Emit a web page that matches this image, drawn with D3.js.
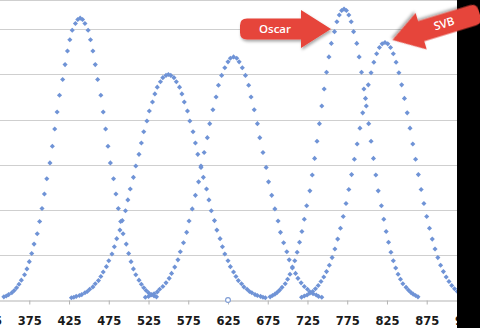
<!DOCTYPE html>
<html>
<head>
<meta charset="utf-8">
<script src="https://cdn.jsdelivr.net/npm/d3@7"></script>
<style>
  html, body { margin: 0; padding: 0; background: #fff; }
  svg { display: block; }
  .tick text { font-family: "DejaVu Sans", sans-serif; font-weight: bold; font-size: 11.5px; fill: #1a1a1a; }
</style>
</head>
<body>
<svg width="480" height="328"></svg>
<script>
// x tick labels and grid levels
var xTicks = [325, 375, 425, 475, 525, 575, 625, 675, 725, 775, 825, 875, 925];
var yGrid = [10, 20, 30, 40, 50, 60];

// curve 1
var aX = [343,346,349,353,356,359,362,365,369,372,375,378,381,385,388,391,394,397,401,404,407,410,413,417,420,423,426,429,433,436,
  439,442,445,449,452,455,458,461,465,468,471,474,477,481,484,487,490,493,497,500,503,506,509,513,516,519,522,525,529,532,535];
var aY = [0.7,0.9,1.2,1.6,2.1,2.7,3.5,4.4,5.6,6.9,8.5,10.3,12.4,14.7,17.4,20.3,23.5,26.9,30.4,34.1,37.9,41.7,45.4,48.9,52.2,55.2,57.7,59.8,61.3,62.2,
  62.5,62.2,61.3,59.8,57.7,55.2,52.2,48.9,45.4,41.7,37.9,34.1,30.4,26.9,23.5,20.3,17.4,14.7,12.4,10.3,8.5,6.9,5.6,4.4,3.5,2.7,2.1,1.6,1.2,0.9,0.7];

// curve 2
var bX = [428,431,434,438,441,445,448,451,455,458,462,465,468,472,475,479,482,485,489,492,496,499,502,506,509,513,516,519,523,526,530,533,536,540,543,547,
  550,553,557,560,564,567,570,574,577,581,584,587,591,594,598,601,604,608,611,615,618,621,625,628,632,635,638,642,645,649,652,655,659,662,666,669,672];
var bY = [0.5,0.6,0.8,1.0,1.2,1.6,1.9,2.4,2.9,3.6,4.3,5.2,6.2,7.4,8.7,10.2,11.8,13.6,15.5,17.6,19.8,22.2,24.6,27.2,29.7,32.3,34.8,37.3,39.7,41.9,43.9,45.7,47.2,48.4,49.3,49.8,
  50.0,49.8,49.3,48.4,47.2,45.7,43.9,41.9,39.7,37.3,34.8,32.3,29.7,27.2,24.6,22.2,19.8,17.6,15.5,13.6,11.8,10.2,8.7,7.4,6.2,5.2,4.3,3.6,2.9,2.4,1.9,1.6,1.2,1.0,0.8,0.6,0.5];

// curve 3
var cX = [521,525,528,532,536,539,543,547,551,554,558,562,565,569,573,576,580,584,588,591,595,599,602,606,610,613,617,621,625,628,
  632,636,639,643,647,651,654,658,662,665,669,673,676,680,684,688,691,695,699,702,706,710,713,717,721,725,728,732,736,739,743];
var cY = [0.6,0.8,1.1,1.4,1.8,2.4,3.0,3.8,4.8,5.9,7.3,8.9,10.7,12.7,15.0,17.5,20.2,23.2,26.2,29.4,32.7,36.0,39.1,42.2,45.0,47.6,49.8,51.5,52.8,53.6,
  53.9,53.6,52.8,51.5,49.8,47.6,45.0,42.2,39.1,36.0,32.7,29.4,26.2,23.2,20.2,17.5,15.0,12.7,10.7,8.9,7.3,5.9,4.8,3.8,3.0,2.4,1.8,1.4,1.1,0.8,0.6];

// Oscar
var oscarX = [678,681,684,687,690,693,697,700,703,706,709,712,715,718,721,724,728,731,734,737,740,743,746,749,752,755,759,762,765,768,
  771,774,777,780,783,787,790,793,796,799,802,805,808,811,814,818,821,824,827,830,833,836,839,842,845,849,852,855,858,861,864];
var oscarY = [0.7,1.0,1.3,1.7,2.2,2.8,3.6,4.6,5.7,7.1,8.7,10.6,12.8,15.2,17.9,20.9,24.2,27.7,31.4,35.2,39.1,43.0,46.8,50.5,53.9,56.9,59.5,61.7,63.2,64.2,
  64.5,64.2,63.2,61.7,59.5,56.9,53.9,50.5,46.8,43.0,39.1,35.2,31.4,27.7,24.2,20.9,17.9,15.2,12.8,10.6,8.7,7.1,5.7,4.6,3.6,2.8,2.2,1.7,1.3,1.0,0.7];

// SVB
var svbX = [717.5,721,724.5,728,731.5,735,738.5,742,745.5,749,752.5,756,759.5,763,766.5,770,773.5,777,780.5,784,787.5,791,794.5,798,801.5,805,808.5,812,815.5,819,
  822.5,826,829.5,833,836.5,840,843.5,847,850.5,854,857.5,861,864.5,868,871.5,875,878.5,882,885.5,889,892.5,896,899.5,903,906.5,910,913.5,917,920.5,924,927.5];
var svbY = [0.6,0.9,1.1,1.5,1.9,2.5,3.2,4.1,5.1,6.3,7.7,9.4,11.3,13.5,15.9,18.5,21.4,24.5,27.8,31.2,34.6,38.1,41.5,44.7,47.7,50.4,52.7,54.6,56.0,56.8,
  57.1,56.8,56.0,54.6,52.7,50.4,47.7,44.7,41.5,38.1,34.6,31.2,27.8,24.5,21.4,18.5,15.9,13.5,11.3,9.4,7.7,6.3,5.1,4.1,3.2,2.5,1.9,1.5,1.1,0.9,0.6];

// lone hollow point on the axis
var hollowX = [625];
var hollowY = [0];

// callouts
var callouts = ["Oscar", "SVB"];
/////////////////////////////////////

var svg = d3.select("svg");
var W = 480, H = 328;

var x = d3.scaleLinear().domain([325, 925]).range([-10.44, 466.44]);
var y = d3.scaleLinear().domain([0, 60]).range([300, 29.4]);

var defs = svg.append("defs");
var f = defs.append("filter").attr("id", "shadow")
  .attr("x", "-20%").attr("y", "-30%").attr("width", "150%").attr("height", "170%");
f.append("feDropShadow").attr("dx", 1).attr("dy", 2).attr("stdDeviation", 1.6)
  .attr("flood-color", "#000").attr("flood-opacity", 0.35);

svg.append("rect").attr("width", W).attr("height", H).attr("fill", "#fff");

// plot top border + gridlines
svg.append("line").attr("x1", 0).attr("x2", W).attr("y1", 0.5).attr("y2", 0.5)
  .attr("stroke", "#cfcfcf").attr("stroke-width", 1.2);
svg.append("g").selectAll("line").data(yGrid).enter().append("line")
  .attr("x1", 0).attr("x2", W)
  .attr("y1", function (d) { return Math.round(y(d)) + 0.5; })
  .attr("y2", function (d) { return Math.round(y(d)) + 0.5; })
  .attr("stroke", "#cfcfcf").attr("stroke-width", 1.2);

// x axis
var ax = svg.append("g").attr("transform", "translate(0," + 300.5 + ")")
  .call(d3.axisBottom(x).tickValues(xTicks).tickSize(4).tickSizeOuter(0).tickPadding(12.5)
    .tickFormat(d3.format("d")));
ax.select(".domain").attr("stroke", "#b3b3b3");
ax.selectAll(".tick line").attr("stroke", "#b3b3b3");

// dots
var series = [d3.zip(aX, aY), d3.zip(bX, bY), d3.zip(cX, cY), d3.zip(oscarX, oscarY), d3.zip(svbX, svbY)];
var sym = d3.symbol().type(d3.symbolSquare).size(13);
var dots = svg.append("g");
series.forEach(function (pts) {
  dots.selectAll(null).data(pts).enter().append("path")
    .attr("d", sym)
    .attr("transform", function (d) { return "translate(" + x(d[0]) + "," + y(d[1]) + ") rotate(45)"; })
    .attr("fill", "#6f93d6");
});

svg.append("g").selectAll("circle").data(d3.zip(hollowX, hollowY)).enter().append("circle")
  .attr("cx", function (d) { return x(d[0]); })
  .attr("cy", function (d) { return y(d[1]); })
  .attr("r", 2.4)
  .attr("fill", "#fff").attr("stroke", "#7d9bd4").attr("stroke-width", 1.1);

// black strip on the right
svg.append("rect").attr("x", 457).attr("y", 0).attr("width", W - 457).attr("height", H).attr("fill", "#000");

// red callout arrows (tip at origin, pointing right)
var arrowPath = "M0,0 L-30,-19 L-30,-10.5 L-84,-10.5 Q-91,-10.5 -91,-3.5 L-91,3.5 Q-91,10.5 -84,10.5 L-30,10.5 L-30,19 Z";
var arrows = [
  { label: callouts[0], tx: 331, ty: 29, rot: 0, lx: 275, ly: 29, lrot: 0 },
  { label: callouts[1], tx: 392.5, ty: 40, rot: 163, lx: 444, ly: 23.5, lrot: -17 }
];
arrows.forEach(function (a) {
  svg.append("path").attr("d", arrowPath)
    .attr("transform", "translate(" + a.tx + "," + a.ty + ") rotate(" + a.rot + ")")
    .attr("fill", "#e6453b").attr("filter", "url(#shadow)");
  svg.append("text")
    .attr("transform", "translate(" + a.lx + "," + a.ly + ") rotate(" + a.lrot + ")")
    .attr("text-anchor", "middle").attr("dy", "0.36em")
    .attr("font-family", "'Open Sans', sans-serif").attr("font-weight", 600).attr("font-size", "11.5px")
    .attr("fill", "#fff")
    .text(a.label);
});
</script>
</body>
</html>
